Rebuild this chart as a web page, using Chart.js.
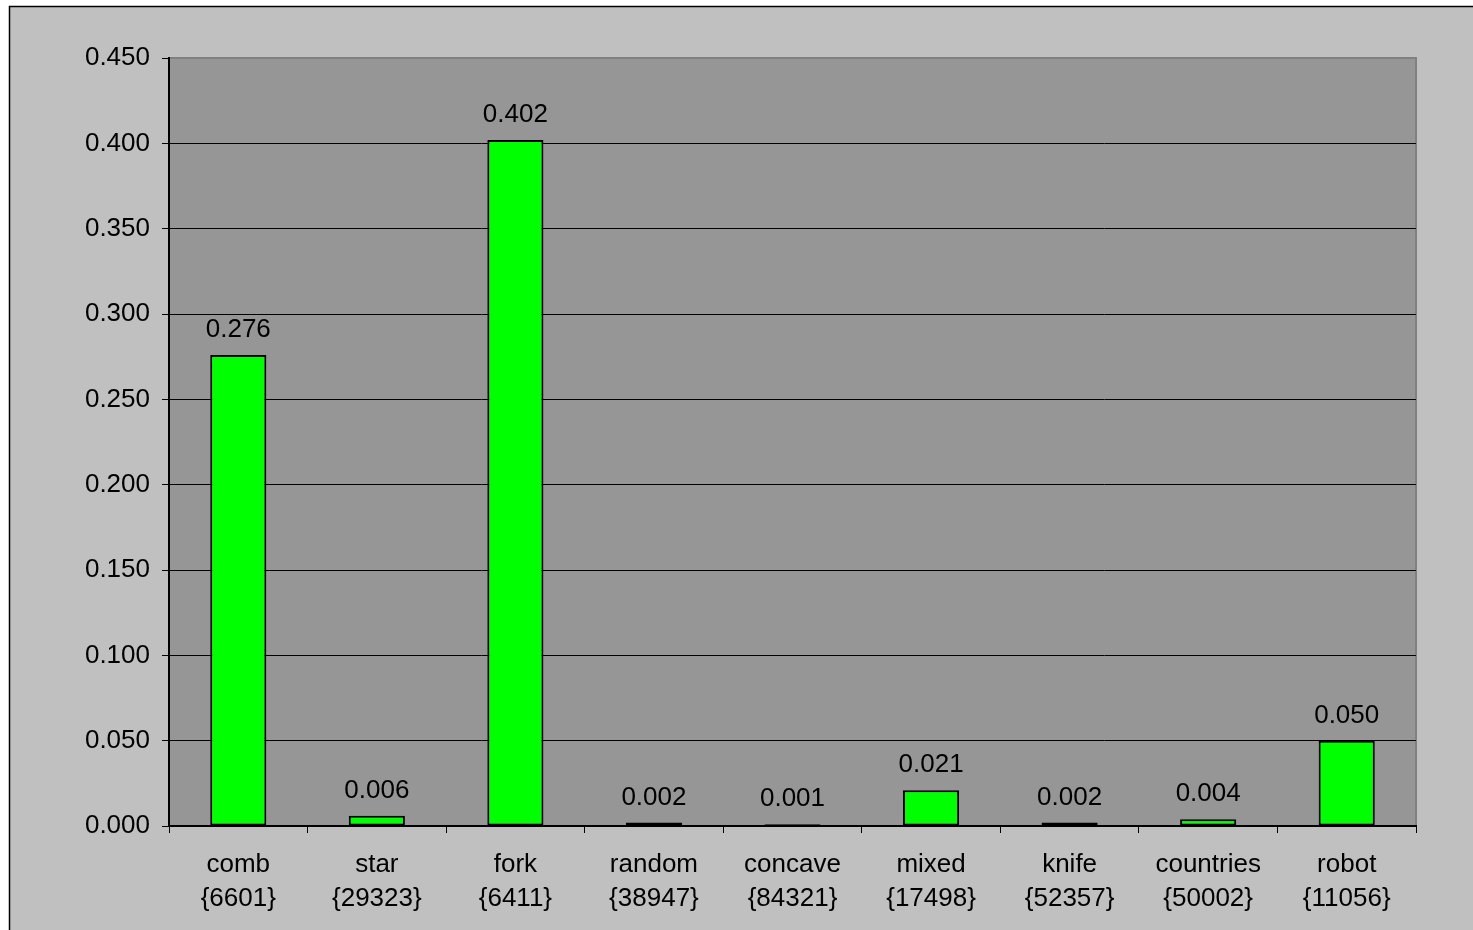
<!DOCTYPE html>
<html>
<head>
<meta charset="utf-8">
<script src="https://cdn.jsdelivr.net/npm/chart.js@4"></script>
<style>
  html, body { margin: 0; padding: 0; background: #fff; }
  #wrap { width: 1473px; height: 930px; }
</style>
</head>
<body>
<div id="wrap"><canvas id="barChart" width="1473" height="930"></canvas></div>
<script>
// chart data
const categories = ["comb", "star", "fork", "random", "concave", "mixed", "knife", "countries", "robot"];
const counts = ["{6601}", "{29323}", "{6411}", "{38947}", "{84321}", "{17498}", "{52357}", "{50002}", "{11056}"];
const values = [0.276, 0.006, 0.402, 0.002, 0.001, 0.021, 0.002, 0.004, 0.050];
const yMin = 0, yMax = 0.45, yStep = 0.05;

const fontFamily = "'Liberation Sans', Arial, sans-serif";

// grey frame + plot area background
const backdrop = {
    id: "backdrop",
    beforeDraw(chart) {
        const c = chart.ctx;
        const a = chart.chartArea;
        c.save();
        c.fillStyle = "#c0c0c0";
        c.fillRect(9, 6, chart.width - 9, chart.height - 6);
        c.strokeStyle = "#000";
        c.lineWidth = 1.5;
        c.beginPath();
        c.moveTo(9.5, chart.height);
        c.lineTo(9.5, 6.5);
        c.lineTo(chart.width, 6.5);
        c.stroke();
        c.fillStyle = "#969696";
        c.fillRect(a.left, a.top, a.right - a.left, a.bottom - a.top);
        c.strokeStyle = "#808080";
        c.lineWidth = 2;
        c.beginPath();
        c.moveTo(a.left, a.top);
        c.lineTo(a.right, a.top);
        c.lineTo(a.right, a.bottom);
        c.stroke();
        c.restore();
    }
};

// value labels on top of bars
const valueLabels = {
    id: "valueLabels",
    afterDatasetsDraw(chart) {
        const c = chart.ctx;
        const meta = chart.getDatasetMeta(0);
        c.save();
        c.font = "26px " + fontFamily;
        c.fillStyle = "#000";
        c.textAlign = "center";
        c.textBaseline = "alphabetic";
        meta.data.forEach((bar, i) => {
            c.fillText(values[i].toFixed(3), bar.x, bar.y - 18);
        });
        c.restore();
    }
};

new Chart(document.getElementById("barChart").getContext("2d"), {
    type: "bar",
    data: {
        labels: categories.map((name, i) => [name, counts[i]]),
        datasets: [{
            data: values,
            backgroundColor: "#00ff00",
            borderColor: "#000",
            borderWidth: 2,
            borderSkipped: false,
            barPercentage: 0.405,
            categoryPercentage: 1
        }]
    },
    options: {
        responsive: false,
        animation: false,
        devicePixelRatio: 1,
        layout: { padding: { left: 0, top: 58, right: 57, bottom: 0 } },
        plugins: { legend: { display: false }, tooltip: { enabled: false } },
        scales: {
            x: {
                offset: true,
                grid: { display: true, drawOnChartArea: false, drawTicks: true, tickLength: 7, offset: true, color: "#000", tickColor: "#000" },
                border: { color: "#000", width: 2 },
                ticks: { color: "#000", font: { family: fontFamily, size: 26, lineHeight: 1.3 }, padding: 15, maxRotation: 0, autoSkip: false },
                afterFit(scale) { scale.height = 104; }
            },
            y: {
                min: yMin,
                max: yMax,
                grid: {
                    color: ctx => (ctx.tick && ctx.tick.value >= yMax - 1e-9) ? "#808080" : "#000",
                    tickColor: "#000",
                    tickLength: 7,
                    lineWidth: 1
                },
                border: { color: "#000", width: 2 },
                ticks: {
                    stepSize: yStep,
                    color: "#000",
                    font: { family: fontFamily, size: 26 },
                    padding: 12,
                    callback: v => v.toFixed(3)
                },
                afterFit(scale) { scale.width = 169; }
            }
        }
    },
    plugins: [backdrop, valueLabels]
});
</script>
</body>
</html>
